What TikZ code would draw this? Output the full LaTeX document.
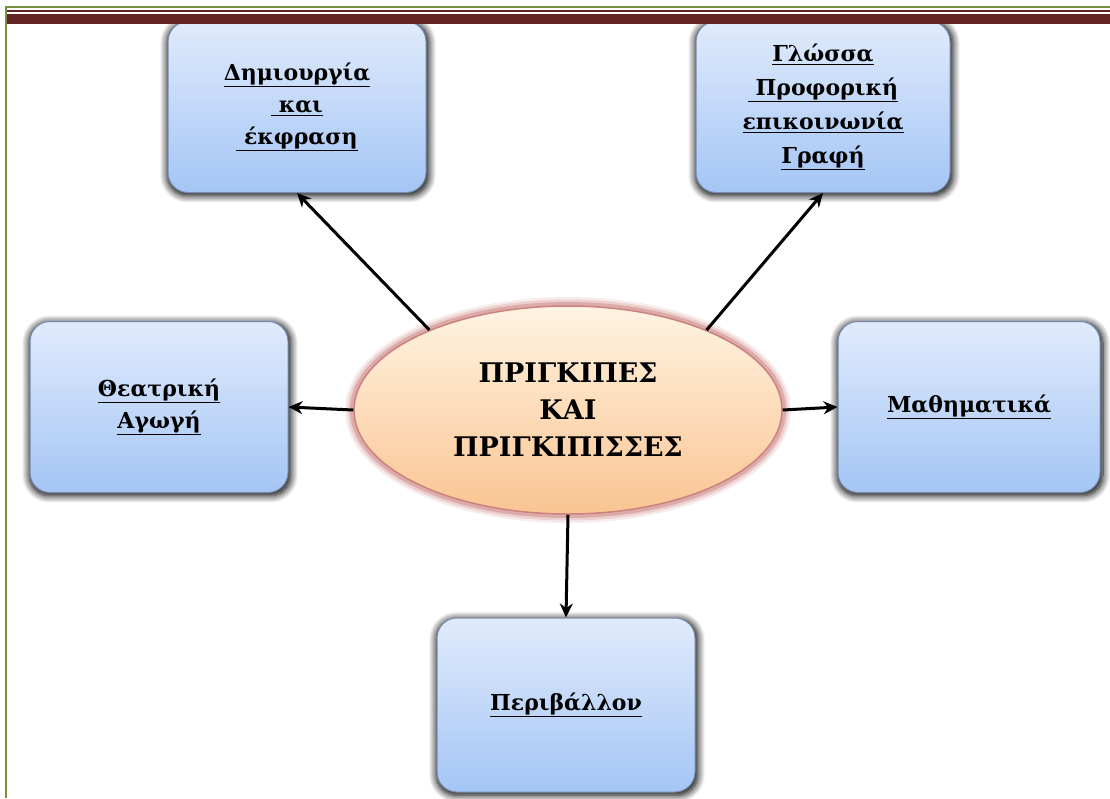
\documentclass[tikz,border=0pt]{standalone}
\usepackage{fontspec}
\setmainfont{DejaVu Serif}
\usetikzlibrary{shapes.geometric,shadows.blur,arrows.meta}

\definecolor{boxtop}{RGB}{224,235,252}
\definecolor{boxbot}{RGB}{164,197,245}
\definecolor{boxline}{RGB}{118,138,172}
\definecolor{ovaltop}{RGB}{255,244,226}
\definecolor{ovalbot}{RGB}{250,196,146}
\definecolor{ovalglow}{RGB}{190,100,96}
\definecolor{frame}{RGB}{118,146,60}
\definecolor{bar}{RGB}{98,36,35}

\begin{document}
\begin{tikzpicture}[x=1pt,y=-1pt,
  topic/.style={draw=boxline, line width=1pt, rounded corners=20pt,
    top color=boxtop, bottom color=boxbot,
    minimum width=258pt, minimum height=171pt, align=center,
    font=\bfseries\fontsize{22}{32}\selectfont,
    blur shadow={shadow xshift=1pt, shadow yshift=-2pt, shadow scale=1.015, shadow blur radius=7pt, shadow blur steps=10, shadow opacity=100}},
  theme/.style={ellipse, draw=ovalglow!80, line width=1.5pt,
    top color=ovaltop, bottom color=ovalbot,
    minimum width=428pt, minimum height=208pt, align=center,
    font=\bfseries\fontsize{27}{37}\selectfont},
  link/.style={-{Stealth[length=14pt,width=13pt]}, line width=3pt, black}]
\useasboundingbox (0,0) rectangle (1110,798);

% soft red glow round the central topic
\foreach \w/\o in {16/0.12,11/0.2,6/0.35}
  \draw[ovalglow, line width=\w pt, opacity=\o] (568,410) ellipse (215 and 105);

% central topic
\node[theme] (c) at (568,410) {ΠΡΙΓΚΙΠΕΣ\\ΚΑΙ\\ΠΡΙΓΚΙΠΙΣΣΕΣ};

% surrounding boxes
\node[topic] (dim) at (297,107) {\underline{Δημιουργία}\\\underline{ και}\\\underline{ έκφραση}};
\node[topic, minimum width=254pt, font=\bfseries\fontsize{22}{34}\selectfont] (gl) at (823,107) {\underline{Γλώσσα}\\\underline{ Προφορική}\\\underline{επικοινωνία}\\\underline{Γραφή}};
\node[topic] (the) at (159,407) {\underline{Θεατρική}\\\underline{Αγωγή}};
\node[topic, minimum width=262pt] (math) at (969,407) {\underline{Μαθηματικά}};
\node[topic, minimum height=174pt] (per) at (566,705) {\underline{Περιβάλλον}};

% arrows
\draw[link] (c.150) -- (dim.south);
\draw[link] (c.30) -- (gl.south);
\draw[link] (c.west) -- (the.east);
\draw[link] (c.east) -- (math.west);
\draw[link] (c.south) -- (per.north);

% page frame
\draw[frame, line width=2.5pt] (6,798) -- (6,7) -- (1110,7);
\fill[bar] (7,10) rectangle (1110,12);
\fill[bar] (7,14) rectangle (1110,24);
\end{tikzpicture}
\end{document}
